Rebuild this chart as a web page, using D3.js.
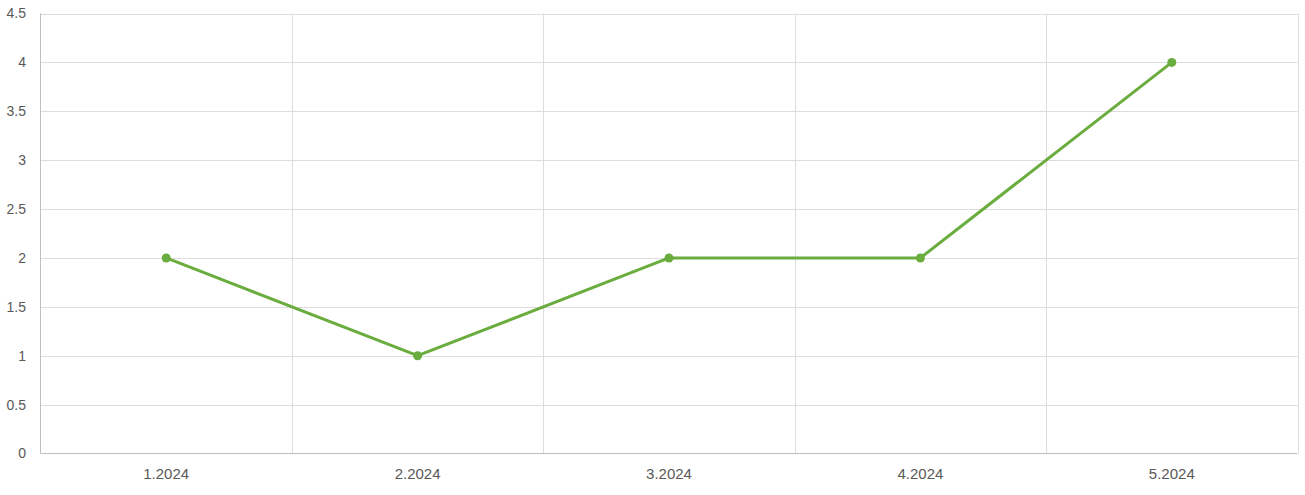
<!DOCTYPE html>
<html><head><meta charset="utf-8">
<script src="https://cdn.jsdelivr.net/npm/d3@7"></script>
<style>body{margin:0;background:#fff}svg{display:block}</style>
</head><body>
<svg id="c" width="1305" height="495"></svg>
<script>
const categories = ["1.2024","2.2024","3.2024","4.2024","5.2024"];
const values = [2, 1, 2, 2, 4];
const yTicks = [0,0.5,1,1.5,2,2.5,3,3.5,4,4.5];

const svg = d3.select("#c");
const m = {l:40.5, r:1297.5, t:13.5, b:453.5};
const x = d3.scaleBand().domain(categories).range([m.l, m.r]);
const y = d3.scaleLinear().domain([0,4.5]).range([m.b, m.t]);

const g = svg.append("g");
g.selectAll(".hg").data(yTicks.filter(d=>d>0)).enter().append("line")
  .attr("x1", m.l).attr("x2", m.r).attr("y1", d=>Math.round(y(d))+0.5).attr("y2", d=>Math.round(y(d))+0.5)
  .attr("stroke","#dddddd").attr("stroke-width",1);
const bounds = categories.map(c=>x(c)).slice(1).concat([m.r]);
g.selectAll(".vg").data(bounds).enter().append("line")
  .attr("x1", d=>Math.round(d)+0.5).attr("x2", d=>Math.round(d)+0.5).attr("y1", m.t).attr("y2", m.b)
  .attr("stroke","#dddddd").attr("stroke-width",1);
g.append("line").attr("x1",m.l).attr("x2",m.l).attr("y1",m.t).attr("y2",m.b).attr("stroke","#bfbfbf");
g.append("line").attr("x1",m.l).attr("x2",m.r).attr("y1",m.b).attr("y2",m.b).attr("stroke","#bfbfbf");

const font = "'Liberation Sans', Arial, sans-serif";
const yAxis = d3.axisLeft(y).tickValues(yTicks).tickSize(0).tickPadding(14.5).tickFormat(d=>String(d));
const ya = svg.append("g").attr("transform",`translate(${m.l},0)`).call(yAxis);
ya.select(".domain").remove();
ya.selectAll("text").attr("fill","#595959").style("font-family",font).style("font-size","14px");

const xAxis = d3.axisBottom(x).tickSize(0).tickPadding(15);
const xa = svg.append("g").attr("transform",`translate(0,${m.b})`).call(xAxis);
xa.select(".domain").remove();
xa.selectAll("text").attr("fill","#595959").style("font-family",font).style("font-size","15px");

const cx = c => x(c) + x.bandwidth()/2;
const line = d3.line().x((d,i)=>cx(categories[i])).y(d=>y(d));
svg.append("path").datum(values).attr("d", line).attr("fill","none")
  .attr("stroke","#6aac3d").attr("stroke-width",3).attr("stroke-linejoin","round");
svg.selectAll(".pt").data(values).enter().append("circle")
  .attr("cx",(d,i)=>cx(categories[i])).attr("cy",d=>y(d)).attr("r",4.5).attr("fill","#6aac3d");
</script>
</body></html>
